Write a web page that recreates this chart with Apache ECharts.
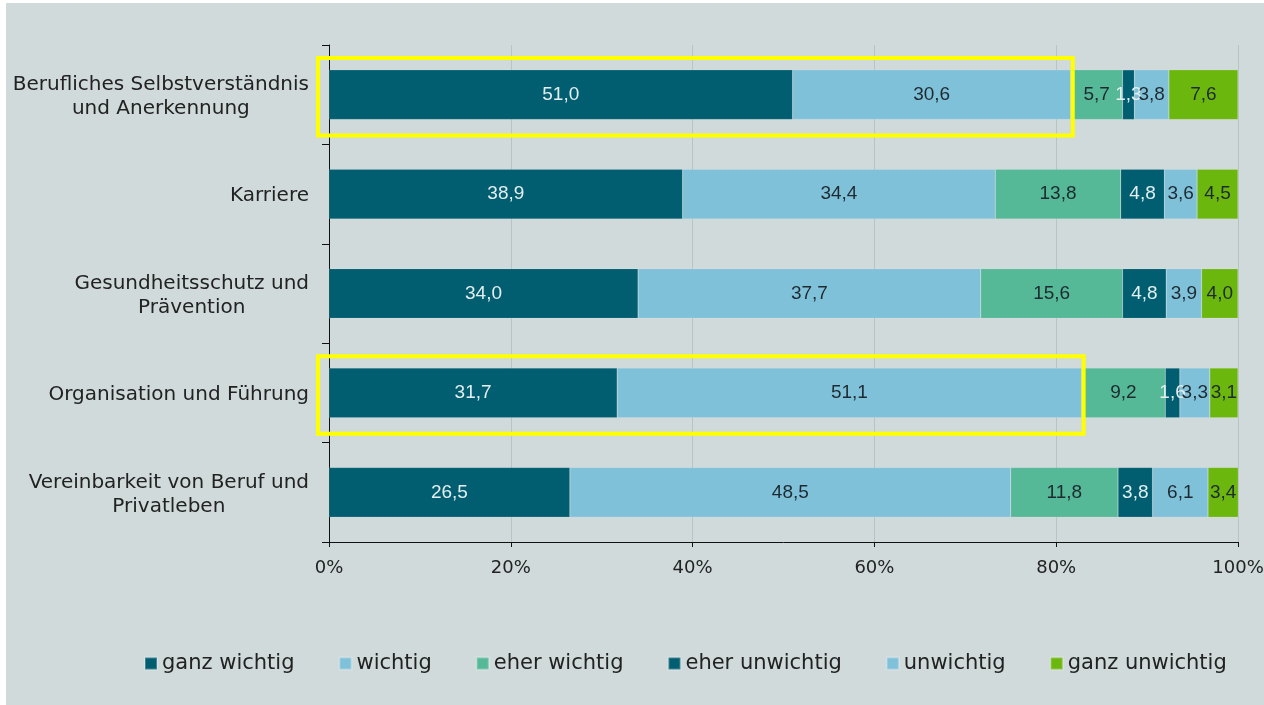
<!DOCTYPE html>
<html><head><meta charset="utf-8">
<script src="https://cdn.jsdelivr.net/npm/echarts@6/dist/echarts.min.js"></script>
<style>
html,body{margin:0;padding:0;background:#ffffff;width:1264px;height:705px;overflow:hidden;}
#c{position:absolute;left:6px;top:3px;width:1258px;height:702px;}
</style></head>
<body><div id="c"></div>
<script>
const categories = ["Berufliches Selbstverständnis\nund Anerkennung", "Karriere", "Gesundheitsschutz und\nPrävention", "Organisation und Führung", "Vereinbarkeit von Beruf und\nPrivatleben"];
const seriesNames = ["ganz wichtig", "wichtig", "eher wichtig", "eher unwichtig", "unwichtig", "ganz unwichtig"];
const ganzWichtig = [51.0, 38.9, 34.0, 31.7, 26.5];
const wichtig = [30.6, 34.4, 37.7, 51.1, 48.5];
const eherWichtig = [5.7, 13.8, 15.6, 9.2, 11.8];
const eherUnwichtig = [1.3, 4.8, 4.8, 1.6, 3.8];
const unwichtig = [3.8, 3.6, 3.9, 3.3, 6.1];
const ganzUnwichtig = [7.6, 4.5, 4.0, 3.1, 3.4];
const xTicks = [0, 20, 40, 60, 80, 100];
const highlighted = [0, 3];

const values = [ganzWichtig, wichtig, eherWichtig, eherUnwichtig, unwichtig, ganzUnwichtig];
const colors = ['#005e70', '#80c1da', '#55b896', '#005e70', '#80c1da', '#6cb70e'];
const labelColors = ['#e4eef0', '#1e2a30', '#1e2a30', '#e4eef0', '#1e2a30', '#1e2a30'];

const chart = echarts.init(document.getElementById('c'));
const fmt = v => v.toFixed(1).replace('.', ',');

const option = {
  backgroundColor: '#d0dadb',
  animation: false,
  legend: {
    data: seriesNames,
    left: 133, top: 645,
    itemWidth: 12, itemHeight: 12, itemGap: 44,
    icon: 'rect',
    textStyle: {fontFamily: 'DejaVu Sans', fontSize: 21, color: '#222'}
  },
  grid: {left: 323, right: 26, top: 42, bottom: 163, containLabel: false, outerBoundsMode: 'none'},
  xAxis: {
    type: 'value', min: 0, max: 100, interval: 20,
    axisLine: {show: true, lineStyle: {color: '#111', width: 1}},
    axisTick: {show: true, length: 5, lineStyle: {color: '#111'}},
    splitLine: {show: true, lineStyle: {color: '#b9c3c5', width: 1}},
    axisLabel: {margin: 17, fontFamily: 'DejaVu Sans', fontSize: 18, color: '#222',
      formatter: v => xTicks.includes(v) ? v + '%' : ''}
  },
  yAxis: {
    type: 'category', data: categories, inverse: true,
    axisLine: {show: true, lineStyle: {color: '#111', width: 1}},
    axisTick: {show: true, length: 7, alignWithLabel: false, lineStyle: {color: '#111'}},
    axisLabel: {
      margin: 20, fontFamily: 'DejaVu Sans', fontSize: 20, color: '#222', lineHeight: 24,
      padding: [4, 0, 0, 0],
      formatter: v => v.split('\n').map(s => '{c|' + s + '}').join('\n'),
      rich: {c: {align: 'center', fontFamily: 'DejaVu Sans', fontSize: 20, color: '#222', lineHeight: 24}}
    }
  },
  series: values.map((d, i) => ({
    name: seriesNames[i], type: 'bar', stack: 'all', data: d,
    barWidth: '50%',
    itemStyle: {color: colors[i], borderColor: 'rgba(255,255,255,0.25)', borderWidth: 0.5},
    label: {show: true, position: 'inside', formatter: p => fmt(p.value),
      fontFamily: 'Liberation Sans', fontSize: 19, color: labelColors[i]}
  }))
};
chart.setOption(option);

// Yellow highlight boxes, positioned from library scales
const boxes = highlighted.map(idx => {
  const extent = ganzWichtig[idx] + wichtig[idx];
  const p0 = chart.convertToPixel({gridIndex: 0}, [0, idx]);
  const p1 = chart.convertToPixel({gridIndex: 0}, [extent, idx]);
  const band = Math.abs(chart.convertToPixel({gridIndex: 0}, [0, 1])[1] - chart.convertToPixel({gridIndex: 0}, [0, 0])[1]);
  const half = band * 0.39;
  return {
    type: 'rect', z: 100,
    shape: {x: p0[0] - 11, y: p0[1] - half + 2, width: p1[0] - p0[0] + 13, height: half * 2},
    style: {fill: 'none', stroke: '#ffff00', lineWidth: 4}
  };
});
chart.setOption({graphic: boxes});
</script></body></html>
